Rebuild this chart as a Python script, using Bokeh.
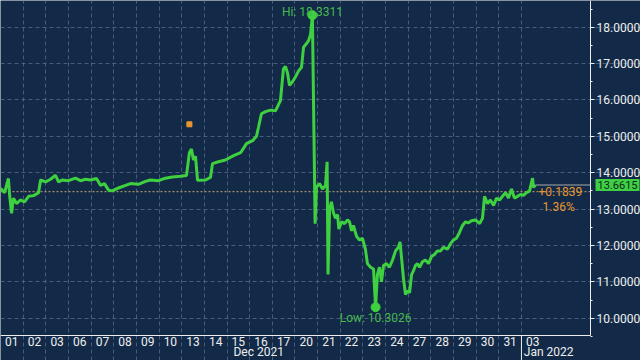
from bokeh.plotting import figure
from bokeh.models import FixedTicker, NumeralTickFormatter, Range1d, LinearAxis
from bokeh.core.properties import value
from bokeh.embed import file_html
from bokeh.resources import INLINE

# ---- data ----
day_labels = ["01", "02", "03", "06", "07", "08", "09", "10", "13", "14", "15", "16",
              "17", "20", "21", "22", "23", "24", "27", "28", "29", "30", "31", "03"]
dec_days = 23
month_labels = ["Dec 2021", "Jan 2022"]
month_pos = [11.4, 24.2]

# position in trading-day units (0 = open of Dec 01)
t = [0.00, 0.18, 0.35, 0.40, 0.49, 0.57, 0.71, 0.88, 1.06, 1.24, 1.46, 1.68, 1.77, 1.99,
     2.21, 2.43, 2.56, 2.74, 3.00, 3.31, 3.53, 3.75, 3.97, 4.24, 4.42, 4.59, 4.77, 4.94,
     5.21, 5.52, 5.74, 6.09, 6.40, 6.62, 6.98, 7.28, 7.59, 7.95, 8.21, 8.34, 8.43, 8.52,
     8.61, 8.70, 9.05, 9.27, 9.36, 9.62, 9.93, 10.29, 10.60, 10.86, 11.13, 11.30, 11.39,
     11.52, 11.70, 11.92, 12.14, 12.36, 12.49, 12.58, 12.67, 12.76, 12.89, 13.02, 13.16,
     13.29, 13.38, 13.51, 13.60, 13.69, 13.77, 13.84, 13.89, 13.95, 14.08, 14.22, 14.35,
     14.42, 14.46, 14.53, 14.61, 14.70, 14.79, 14.88, 14.94, 15.06, 15.19, 15.32, 15.41,
     15.50, 15.58, 15.72, 15.85, 15.98, 16.11, 16.20, 16.34, 16.47, 16.56, 16.64, 16.73,
     16.82, 16.91, 17.04, 17.17, 17.31, 17.44, 17.57, 17.64, 17.70, 17.79, 17.88, 17.97,
     18.06, 18.15, 18.23, 18.32, 18.41, 18.50, 18.63, 18.76, 18.90, 19.03, 19.16, 19.29,
     19.43, 19.56, 19.74, 19.87, 20.00, 20.13, 20.26, 20.40, 20.53, 20.66, 20.79, 20.97,
     21.15, 21.28, 21.37, 21.50, 21.63, 21.77, 21.90, 22.03, 22.16, 22.30, 22.43, 22.56,
     22.69, 22.83, 22.96, 23.09, 23.22, 23.36, 23.49, 23.53, 23.62]
price = [13.57, 13.45, 13.84, 13.40, 12.88, 13.30, 13.15, 13.25, 13.20, 13.35, 13.37, 13.45,
         13.80, 13.75, 13.82, 13.93, 13.75, 13.80, 13.78, 13.85, 13.78, 13.82, 13.80, 13.84,
         13.65, 13.70, 13.52, 13.50, 13.58, 13.65, 13.70, 13.68, 13.76, 13.80, 13.78, 13.85,
         13.88, 13.90, 13.92, 14.55, 14.65, 14.35, 14.45, 13.79, 13.80, 13.87, 14.25, 14.30,
         14.35, 14.47, 14.55, 14.80, 14.88, 15.00, 15.25, 15.62, 15.68, 15.72, 15.70, 15.98,
         16.85, 16.92, 16.75, 16.40, 16.50, 16.63, 16.80, 16.90, 17.45, 17.55, 17.63, 17.80,
         18.3311, 15.00, 12.60, 13.60, 13.70, 13.55, 13.65, 14.30, 11.20, 13.00, 13.20, 12.90,
         12.75, 12.85, 12.45, 12.65, 12.60, 12.70, 12.65, 12.40, 12.55, 12.25, 12.15, 12.20,
         11.90, 11.50, 11.40, 11.35, 10.3026, 11.20, 11.40, 11.00, 11.45, 11.50, 11.40, 11.60,
         11.85, 11.95, 12.10, 11.70, 11.10, 10.65, 10.75, 10.70, 11.20, 11.30, 11.45, 11.50,
         11.40, 11.55, 11.60, 11.50, 11.70, 11.75, 11.85, 11.85, 11.95, 11.90, 12.05, 12.15,
         12.20, 12.35, 12.55, 12.65, 12.62, 12.68, 12.70, 12.60, 12.75, 13.35, 13.15, 13.25,
         13.10, 13.30, 13.25, 13.35, 13.45, 13.30, 13.55, 13.30, 13.35, 13.40, 13.38, 13.45,
         13.50, 13.85, 13.60, 13.6615]

hi_t, hi_val = [13.77], [18.3311]
lo_t, lo_val = [16.56], [10.3026]
prev_close = 13.4776
last_val = 13.6615
change_text = ["+0.1839", "1.36%"]
event_t, event_val = [8.34], [15.33]

y_ticks = [10, 11, 12, 13, 14, 15, 16, 17, 18]

# ---- layout / styling ----
BG = "#122a47"
GREEN = "#3fd03f"
GREEN_TXT = "#46b84d"
ORANGE = "#e8962f"
WHITE = "#eeeeee"
FONT = "Roboto"

X0, X1 = 0.0, 26.05          # plotting area, trading days
Y0, Y1 = 9.524, 18.734       # plotting area, price
XC = 28.256                  # right edge of the canvas
YC = 8.837                   # bottom edge of the canvas
Y_MONTH = 9.25               # row of the month labels

p = figure(width=640, height=360, x_range=Range1d(X0, XC), y_range=Range1d(YC, Y1),
           x_axis_location=None, y_axis_location=None,
           output_backend="svg", toolbar_location=None,
           min_border=0, background_fill_color=BG, border_fill_color=BG,
           outline_line_color=None)

# grids limited to the plotting area
p.xgrid.ticker = FixedTicker(ticks=list(range(1, dec_days + 1)))
p.xgrid.bounds = (Y0, Y1)
p.ygrid.ticker = FixedTicker(ticks=y_ticks)
p.ygrid.bounds = (X0, X1)
for g in (p.xgrid, p.ygrid):
    g.grid_line_color = "#5d7391"
    g.grid_line_alpha = 0.7
    g.grid_line_dash = "4 3"
    g.grid_line_width = 1

# day axis
xa = LinearAxis(fixed_location=Y0, bounds=(X0, X1))
xa.ticker = FixedTicker(ticks=[i + 0.5 for i in range(len(day_labels))])
xa.major_label_overrides = {i + 0.5: lab for i, lab in enumerate(day_labels)}
xa.major_tick_line_color = None
xa.major_tick_out = 0
xa.major_tick_in = 0
xa.minor_tick_line_color = None
xa.axis_line_color = WHITE
xa.major_label_text_color = WHITE
xa.major_label_text_font = FONT
xa.major_label_text_font_size = "12px"
xa.major_label_standoff = 1
p.add_layout(xa, "below")

# month axis
ma = LinearAxis(fixed_location=Y_MONTH)
ma.ticker = FixedTicker(ticks=month_pos)
ma.major_label_overrides = {pos: lab for pos, lab in zip(month_pos, month_labels)}
ma.axis_line_color = None
ma.major_tick_line_color = None
ma.major_tick_out = 0
ma.major_tick_in = 0
ma.minor_tick_line_color = None
ma.major_label_text_color = WHITE
ma.major_label_text_font = FONT
ma.major_label_text_font_size = "12px"
ma.major_label_standoff = 0
p.add_layout(ma, "below")

# price axis
ya = LinearAxis(fixed_location=X1, bounds=(Y0, Y1))
ya.ticker = FixedTicker(ticks=y_ticks, minor_ticks=[v + 0.5 for v in [9] + y_ticks])
ya.formatter = NumeralTickFormatter(format="0.0000")
ya.axis_line_color = WHITE
ya.major_tick_line_color = WHITE
ya.minor_tick_line_color = WHITE
ya.major_tick_in = 0
ya.major_tick_out = 4
ya.minor_tick_in = 0
ya.minor_tick_out = 2
ya.major_label_text_color = WHITE
ya.major_label_text_font = FONT
ya.major_label_text_font_size = "12px"
ya.major_label_standoff = 2
p.add_layout(ya, "right")

# Dec / Jan separator below the day axis
p.segment(x0=[dec_days], y0=[Y0], x1=[dec_days], y1=[YC], line_color=WHITE, line_width=1)

# previous close reference line
p.segment(x0=[X0], y0=[prev_close], x1=[X1], y1=[prev_close], line_color="#c9a36a",
          line_dash="2 2", line_width=1)

# series
p.line(t, price, line_color=GREEN, line_width=3)
p.segment(x0=[t[-1]], y0=[last_val], x1=[X1], y1=[last_val], line_color="#a8a8a8", line_width=1)

# hi / low markers
p.scatter(hi_t + lo_t, hi_val + lo_val, size=9, color=GREEN)
p.text(hi_t, hi_val, text=[f"Hi: {hi_val[0]:.4f}"], text_align="center",
       text_baseline="alphabetic", y_offset=-3, text_color=GREEN_TXT,
       text_font=value(FONT), text_font_size="12px")
p.text(lo_t, lo_val, text=[f"Low: {lo_val[0]:.4f}"], text_align="center", text_baseline="top",
       y_offset=4, text_color=GREEN_TXT, text_font=value(FONT), text_font_size="12px")

# event marker
p.scatter(event_t, event_val, marker="square", size=5, color=ORANGE)

# change texts
p.text([t[-1]] * 2, [prev_close] * 2, text=change_text, x_offset=[3, 7], y_offset=[0, 15],
       text_align="left", text_baseline="middle", text_color=ORANGE,
       text_font=value(FONT), text_font_size="12px")

# last price tag on the axis
p.text([X1], [last_val], text=[f"{last_val:.4f}"], x_offset=5, text_align="left",
       text_baseline="middle", text_color="#0d2a18", text_font=value(FONT),
       text_font_size="11px", background_fill_color="#3fcf45", padding=2)

open("out.html", "w").write(file_html(p, INLINE))
